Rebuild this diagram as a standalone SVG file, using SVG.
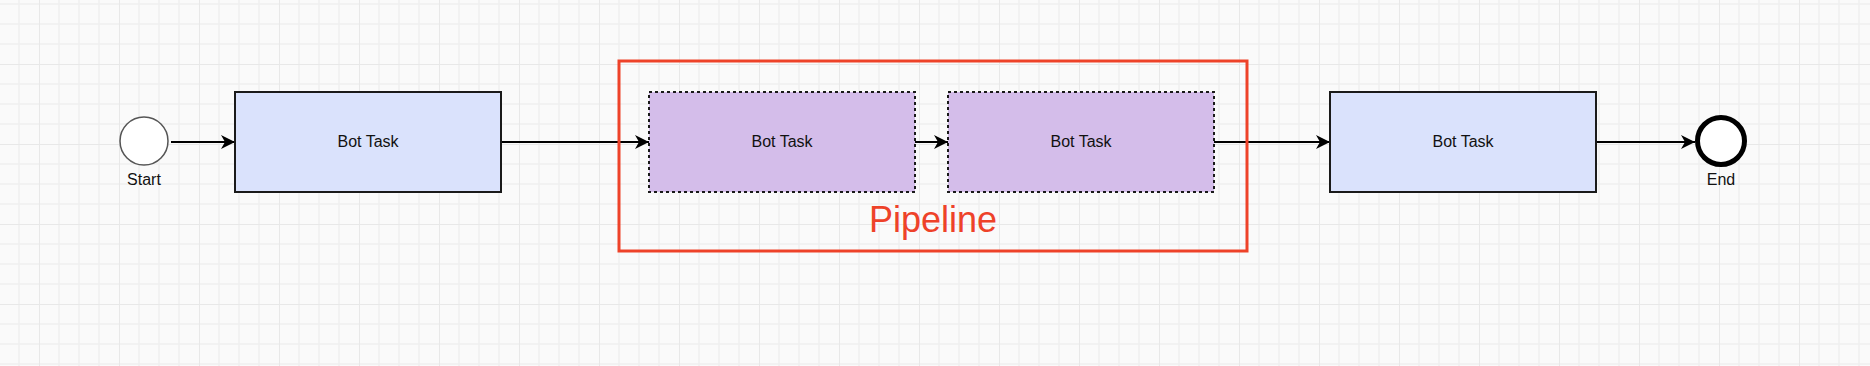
<svg xmlns="http://www.w3.org/2000/svg" width="1870" height="366" viewBox="0 0 1870 366">
<style>
.lbl{font-family:"Liberation Sans",Arial,sans-serif;fill:#111;text-anchor:middle}
.task{fill:#dae2fc;stroke:#1a1a1a;stroke-width:2}
.ptask{fill:#d4bdea;stroke:#1a1a1a;stroke-width:2;stroke-dasharray:3 3}
.conn{stroke:#000;stroke-width:2;fill:none;marker-end:url(#arr)}
</style>
<defs>
<pattern id="grid" patternUnits="userSpaceOnUse" x="39" y="64" width="80" height="80">
<path d="M20 0V80M40 0V80M60 0V80M0 20H80M0 40H80M0 60H80" stroke="#f0f0f0" stroke-width="1.5" fill="none"/>
<path d="M0 0V80M0 0H80" stroke="#e8e8e8" stroke-width="2" fill="none"/>
</pattern>
<marker id="arr" markerUnits="userSpaceOnUse" markerWidth="16" markerHeight="14" refX="14" refY="7" orient="auto">
<path d="M0 0L14 7L0 14L4 7Z" fill="#000"/>
</marker>
</defs>
<rect width="1870" height="366" fill="#fafafa"/>
<rect width="1870" height="366" fill="url(#grid)"/>
<g id="connectors">
<line class="conn" x1="171" y1="142" x2="235" y2="142"/>
<line class="conn" x1="501" y1="142" x2="649" y2="142"/>
<line class="conn" x1="915" y1="142" x2="948" y2="142"/>
<line class="conn" x1="1214" y1="142" x2="1330" y2="142"/>
<line class="conn" x1="1596" y1="142" x2="1695" y2="142"/>
</g>
<g id="pipeline">
<rect x="619" y="61" width="628" height="190" fill="none" stroke="#ee4229" stroke-width="3"/>
<text x="933" y="232" font-family="&quot;Liberation Sans&quot;,Arial,sans-serif" font-size="36" fill="#ee4229" text-anchor="middle">Pipeline</text>
</g>
<g id="start">
<circle cx="144" cy="141" r="24" fill="#fff" stroke="#555" stroke-width="1.5"/>
<text class="lbl" x="144" y="185" font-size="16">Start</text>
</g>
<g id="task1">
<rect class="task" x="235" y="92" width="266" height="100"/>
<text class="lbl" x="368" y="147" font-size="16">Bot Task</text>
</g>
<g id="ptask1">
<rect class="ptask" x="649" y="92" width="266" height="100"/>
<text class="lbl" x="782" y="147" font-size="16">Bot Task</text>
</g>
<g id="ptask2">
<rect class="ptask" x="948" y="92" width="266" height="100"/>
<text class="lbl" x="1081" y="147" font-size="16">Bot Task</text>
</g>
<g id="task3">
<rect class="task" x="1330" y="92" width="266" height="100"/>
<text class="lbl" x="1463" y="147" font-size="16">Bot Task</text>
</g>
<g id="end">
<circle cx="1721" cy="141" r="23.5" fill="#fff" stroke="#000" stroke-width="5"/>
<text class="lbl" x="1721" y="185" font-size="16">End</text>
</g>
</svg>
